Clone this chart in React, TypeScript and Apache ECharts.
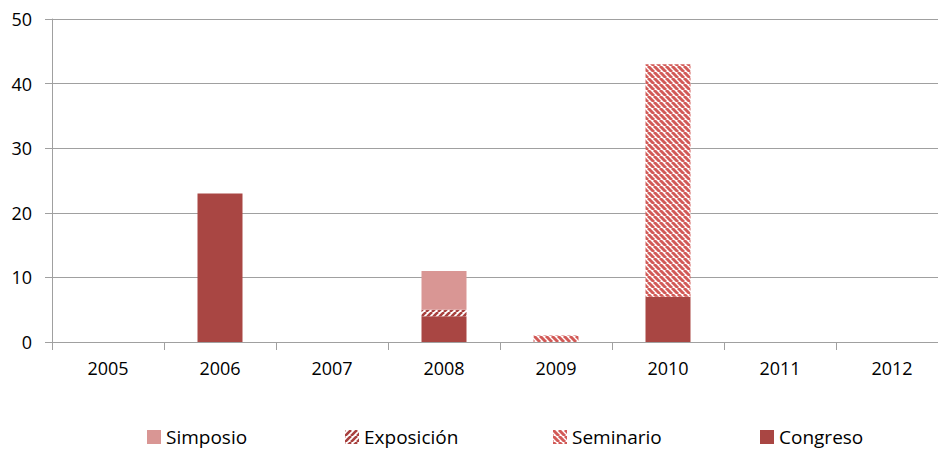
import React, { useEffect, useRef } from "react";
import * as echarts from "echarts";

const categories = ["2005", "2006", "2007", "2008", "2009", "2010", "2011", "2012"];
const congreso = [0, 23, 0, 4, 0, 7, 0, 0];
const seminario = [0, 0, 0, 0, 1, 36, 0, 0];
const exposicion = [0, 0, 0, 1, 0, 0, 0, 0];
const simposio = [0, 0, 0, 6, 0, 0, 0, 0];

function stripe(color: string, dir: "up" | "down", size: number, lw: number) {
  const c = document.createElement("canvas");
  c.width = size;
  c.height = size;
  const ctx = c.getContext("2d")!;
  ctx.fillStyle = "#ffffff";
  ctx.fillRect(0, 0, size, size);
  ctx.strokeStyle = color;
  ctx.lineWidth = lw;
  for (const k of [-size, 0, size]) {
    ctx.beginPath();
    if (dir === "up") {
      ctx.moveTo(k, size);
      ctx.lineTo(k + size, 0);
    } else {
      ctx.moveTo(k, 0);
      ctx.lineTo(k + size, size);
    }
    ctx.stroke();
  }
  return c;
}

export default function App() {
  const ref = useRef<HTMLDivElement>(null);
  useEffect(() => {
    const chart = echarts.init(ref.current!, undefined, { renderer: "svg" });
    const font = "'Open Sans', 'Noto Sans', sans-serif";
    const expoPat = { image: stripe("#A8403E", "up", 6, 2.6), repeat: "repeat" };
    const semiPat = { image: stripe("#D25A57", "down", 6, 3), repeat: "repeat" };
    const seriesDefs = [
      { name: "Congreso", data: congreso, color: "#A94643" as any },
      { name: "Seminario", data: seminario, color: semiPat as any },
      { name: "Exposición", data: exposicion, color: expoPat as any },
      { name: "Simposio", data: simposio, color: "#D99694" as any },
    ];
    const legendPos: [string, number][] = [
      ["Simposio", 147],
      ["Exposición", 345],
      ["Seminario", 553],
      ["Congreso", 760],
    ];
    chart.setOption({
      animation: false,
      textStyle: { fontFamily: font },
      grid: {
        left: 52,
        width: 896,
        top: 19,
        height: 323,
        containLabel: false,
        outerBoundsMode: "none",
      },
      legend: legendPos.map(([n, x]) => ({
        data: [n],
        left: x,
        top: 427,
        itemWidth: 14,
        itemHeight: 14,
        itemGap: 0,
        icon: "rect",
        textStyle: { fontFamily: font, fontSize: 19, lineHeight: 20, color: "#000" },
        padding: 0,
        selectedMode: false,
      })),
      xAxis: {
        type: "category",
        data: categories,
        axisLine: { lineStyle: { color: "#A0A0A0", width: 1 } },
        axisTick: { show: true, length: 8, alignWithLabel: false, lineStyle: { color: "#A0A0A0" } },
        axisLabel: { fontSize: 18, color: "#000", margin: 17, fontFamily: font },
      },
      yAxis: {
        type: "value",
        min: 0,
        max: 50,
        interval: 10,
        axisLine: { show: true, lineStyle: { color: "#A0A0A0", width: 1 } },
        axisTick: { show: true, length: 7, lineStyle: { color: "#A0A0A0" } },
        axisLabel: { fontSize: 18, color: "#000", margin: 20, fontFamily: font },
        splitLine: { lineStyle: { color: "#A0A0A0", width: 1 } },
      },
      series: seriesDefs.map((s) => ({
        name: s.name,
        type: "bar",
        stack: "total",
        barWidth: 45,
        data: s.data,
        itemStyle: { color: s.color },
      })),
    });
    return () => chart.dispose();
  }, []);
  return <div ref={ref} style={{ width: 938, height: 450, position: "absolute", left: 0, top: 0, overflow: "hidden" }} />;
}
